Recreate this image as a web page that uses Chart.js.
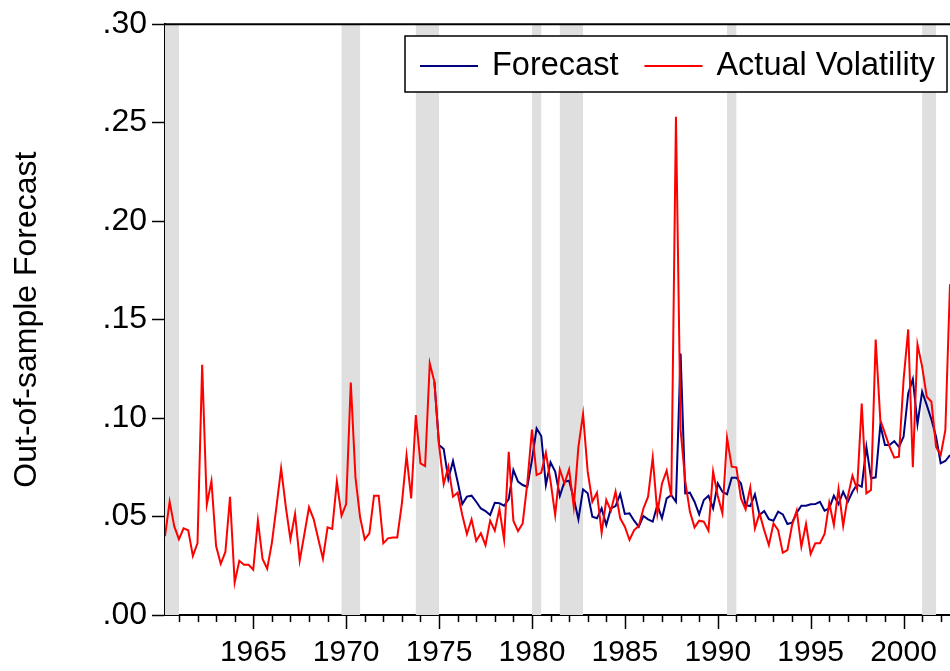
<!DOCTYPE html>
<html>
<head>
<meta charset="utf-8">
<script src="https://cdn.jsdelivr.net/npm/chart.js@4.4.1/dist/chart.umd.min.js"></script>
<style>
  html, body { margin: 0; padding: 0; background: #fff; }
  canvas { display: block; }
</style>
</head>
<body>
<canvas id="myChart" width="950" height="671"></canvas>
<script>
// quarterly observations, first one is 1960Q2
let startYear = 1960.25;

let actual = [
  0.040, 0.0575, 0.045, 0.0385, 0.044, 0.043, 0.030, 0.0365, 0.127, 0.056,
  0.068, 0.035, 0.026, 0.032, 0.060, 0.0165, 0.0275, 0.0255, 0.0255, 0.023,
  0.048, 0.0285, 0.0235, 0.0365, 0.055, 0.0745, 0.055, 0.0385, 0.0513, 0.0276,
  0.041, 0.0547, 0.0487, 0.0386, 0.0286, 0.0445, 0.0437, 0.0677, 0.0504, 0.0563,
  0.118, 0.070, 0.0496, 0.0384, 0.0415, 0.0606, 0.0606, 0.0364, 0.0389, 0.0394,
  0.0394, 0.0567, 0.0811, 0.0592, 0.1015, 0.077, 0.0756, 0.1278, 0.1184, 0.0863,
  0.0665, 0.0753, 0.0601, 0.0621, 0.0508, 0.0411, 0.0486, 0.0377, 0.0415, 0.0355,
  0.0479, 0.0428, 0.0538, 0.0384, 0.0829, 0.0479, 0.0426, 0.0465, 0.0668, 0.0942,
  0.0711, 0.0722, 0.0824, 0.068, 0.0508, 0.0739, 0.0668, 0.0739, 0.055, 0.0854,
  0.102, 0.0728, 0.0575, 0.0621, 0.0418, 0.0584, 0.053, 0.0626, 0.0491, 0.0448,
  0.0381, 0.0431, 0.0452, 0.0541, 0.0601, 0.080, 0.0516, 0.0668, 0.0733, 0.0601,
  0.253, 0.094, 0.068, 0.0525, 0.0445, 0.0479, 0.0474, 0.0428, 0.0728, 0.0604,
  0.0516, 0.090, 0.0753, 0.075, 0.0592, 0.0536, 0.0648, 0.044, 0.0516, 0.0431,
  0.0355, 0.0465, 0.0431, 0.0316, 0.033, 0.0457, 0.053, 0.0347, 0.0462, 0.031,
  0.0364, 0.0364, 0.0411, 0.057, 0.0457, 0.064, 0.0452, 0.0601, 0.0707, 0.0638,
  0.1074, 0.0618, 0.0635, 0.1399, 0.099, 0.0922, 0.0854, 0.0799, 0.0804, 0.1193,
  0.145, 0.075, 0.1374, 0.1261, 0.1108, 0.1083, 0.0854, 0.0812, 0.0939, 0.168
];

// out-of-sample forecast starts in 1974Q4 (index 58)
let forecast = [
  null, null, null, null, null, null, null, null, null, null,
  null, null, null, null, null, null, null, null, null, null,
  null, null, null, null, null, null, null, null, null, null,
  null, null, null, null, null, null, null, null, null, null,
  null, null, null, null, null, null, null, null, null, null,
  null, null, null, null, null, null, null, null, 0.1184, 0.0863,
  0.0843, 0.069, 0.0782, 0.0677, 0.0563, 0.0601, 0.0606, 0.0575, 0.0541, 0.0528,
  0.0508, 0.057, 0.0567, 0.0555, 0.0589, 0.0736, 0.0677, 0.066, 0.0651, 0.0787,
  0.0948, 0.0909, 0.066, 0.0775, 0.0728, 0.0604, 0.0677, 0.0682, 0.0592, 0.0486,
  0.0638, 0.0618, 0.0499, 0.0491, 0.0541, 0.0457, 0.0541, 0.0553, 0.0614, 0.0513,
  0.0516, 0.0479, 0.0448, 0.0503, 0.0486, 0.0474, 0.0558, 0.0491, 0.0592, 0.0609,
  0.0575, 0.1328, 0.0618, 0.0621, 0.0575, 0.0511, 0.0584, 0.0606, 0.0541, 0.0668,
  0.0626, 0.0613, 0.0697, 0.0697, 0.0668, 0.0558, 0.0553, 0.0613, 0.0508, 0.0528,
  0.0487, 0.0479, 0.0525, 0.0511, 0.0462, 0.0469, 0.0519, 0.0555, 0.0555, 0.0562,
  0.0563, 0.0575, 0.053, 0.0541, 0.0606, 0.0563, 0.0626, 0.0575, 0.0626, 0.0663,
  0.0651, 0.0854, 0.0694, 0.0699, 0.0964, 0.0863, 0.0863, 0.0883, 0.0854, 0.0905,
  0.1125, 0.1198, 0.097, 0.1134, 0.1066, 0.0993, 0.0905, 0.077, 0.0782, 0.0812
];

// NBER recessions, [start, end] in years
let recessions = [
  [1960.25, 1961.0], [1969.75, 1970.75], [1973.75, 1975.0], [1980.0, 1980.5],
  [1981.5, 1982.75], [1990.5, 1991.0], [2001.0, 2001.75]
];

let yearLabels = [1965, 1970, 1975, 1980, 1985, 1990, 1995, 2000];
let yTicks = [0, 0.05, 0.10, 0.15, 0.20, 0.25, 0.30];

let toPoints = arr => arr.map((v, i) => ({ x: startYear + i / 4, y: v }));

let FONT = '"Liberation Sans", Arial, sans-serif';

let shading = {
  id: 'shading',
  beforeDatasetsDraw(chart) {
    let { ctx, chartArea: a, scales: { x } } = chart;
    ctx.save();
    ctx.fillStyle = '#dfdfdf';
    recessions.forEach(function (r) {
      let x0 = Math.max(x.getPixelForValue(r[0]), a.left);
      let x1 = Math.min(x.getPixelForValue(r[1]), a.right);
      ctx.fillRect(x0, a.top, x1 - x0, a.bottom - a.top);
    });
    ctx.restore();
  }
};

let frame = {
  id: 'frame',
  afterDraw(chart) {
    let { ctx, chartArea: a, scales: { x } } = chart;
    ctx.save();
    ctx.strokeStyle = '#000';
    ctx.lineWidth = 2;
    ctx.beginPath();
    ctx.moveTo(a.left, a.top);
    ctx.lineTo(a.right, a.top);
    ctx.stroke();
    // year ticks, longer every 5 years
    ctx.lineWidth = 1.5;
    for (let yr = Math.ceil(x.min); yr <= x.max; yr++) {
      let px = Math.round(x.getPixelForValue(yr)) + 0.5;
      ctx.beginPath();
      ctx.moveTo(px, a.bottom);
      ctx.lineTo(px, a.bottom + (yr % 5 === 0 ? 14 : 7));
      ctx.stroke();
    }

    // legend box
    let bx = 405, by = 36, bw = 542, bh = 56;
    ctx.fillStyle = '#fff';
    ctx.fillRect(bx, by, bw, bh);
    ctx.lineWidth = 1.5;
    ctx.strokeRect(bx, by, bw, bh);
    ctx.font = '32.5px ' + FONT;
    ctx.textBaseline = 'middle';
    let cx = bx + 15, cy = by + bh / 2 + 2;
    chart.data.datasets.forEach(function (ds) {
      ctx.strokeStyle = ds.borderColor;
      ctx.lineWidth = 2;
      ctx.beginPath();
      ctx.moveTo(cx, cy);
      ctx.lineTo(cx + 58, cy);
      ctx.stroke();
      ctx.fillStyle = '#000';
      ctx.fillText(ds.label, cx + 72, cy);
      cx += 72 + ctx.measureText(ds.label).width + 26;
    });
    ctx.restore();
  }
};

let ctx = document.getElementById('myChart');
let myChart = new Chart(ctx, {
  type: 'line',
  data: {
    datasets: [{
      label: 'Forecast',
      data: toPoints(forecast),
      borderColor: '#000080',
      borderWidth: 2,
      order: 2
    }, {
      label: 'Actual Volatility',
      data: toPoints(actual),
      borderColor: '#ff0000',
      borderWidth: 2,
      order: 1
    }]
  },
  options: {
    responsive: false,
    animation: false,
    devicePixelRatio: 1,
    layout: { padding: { top: 24, right: 0, left: 0, bottom: 0 } },
    elements: { point: { radius: 0 }, line: { tension: 0 } },
    plugins: { legend: { display: false }, tooltip: { enabled: false } },
    scales: {
      x: {
        type: 'linear',
        min: startYear,
        max: startYear + (actual.length - 1) / 4,
        afterBuildTicks: s => { s.ticks = yearLabels.map(v => ({ value: v })); },
        afterFit: s => { s.height = 56; s.paddingLeft = 0; s.paddingRight = 0; },
        grid: { display: false, drawTicks: false },
        border: { display: true, color: '#000', width: 2 },
        ticks: {
          color: '#000',
          padding: 20,
          maxRotation: 0,
          autoSkip: false,
          font: { family: FONT, size: 30 },
          callback: v => String(v)
        }
      },
      y: {
        min: 0,
        max: 0.30,
        afterBuildTicks: s => { s.ticks = yTicks.map(v => ({ value: v })); },
        afterFit: s => { s.width = 165; },
        grid: { drawOnChartArea: false, drawTicks: true, tickLength: 13, tickColor: '#000', tickWidth: 1.5 },
        border: { display: true, color: '#000', width: 2 },
        title: {
          display: true,
          text: 'Out-of-sample Forecast',
          color: '#000',
          font: { family: FONT, size: 32 },
          padding: { top: 8, bottom: 4 }
        },
        ticks: {
          color: '#000',
          padding: 5,
          font: { family: FONT, size: 32 },
          callback: v => v.toFixed(2).replace(/^0/, '')
        }
      }
    }
  },
  plugins: [shading, frame]
});
</script>
</body>
</html>
